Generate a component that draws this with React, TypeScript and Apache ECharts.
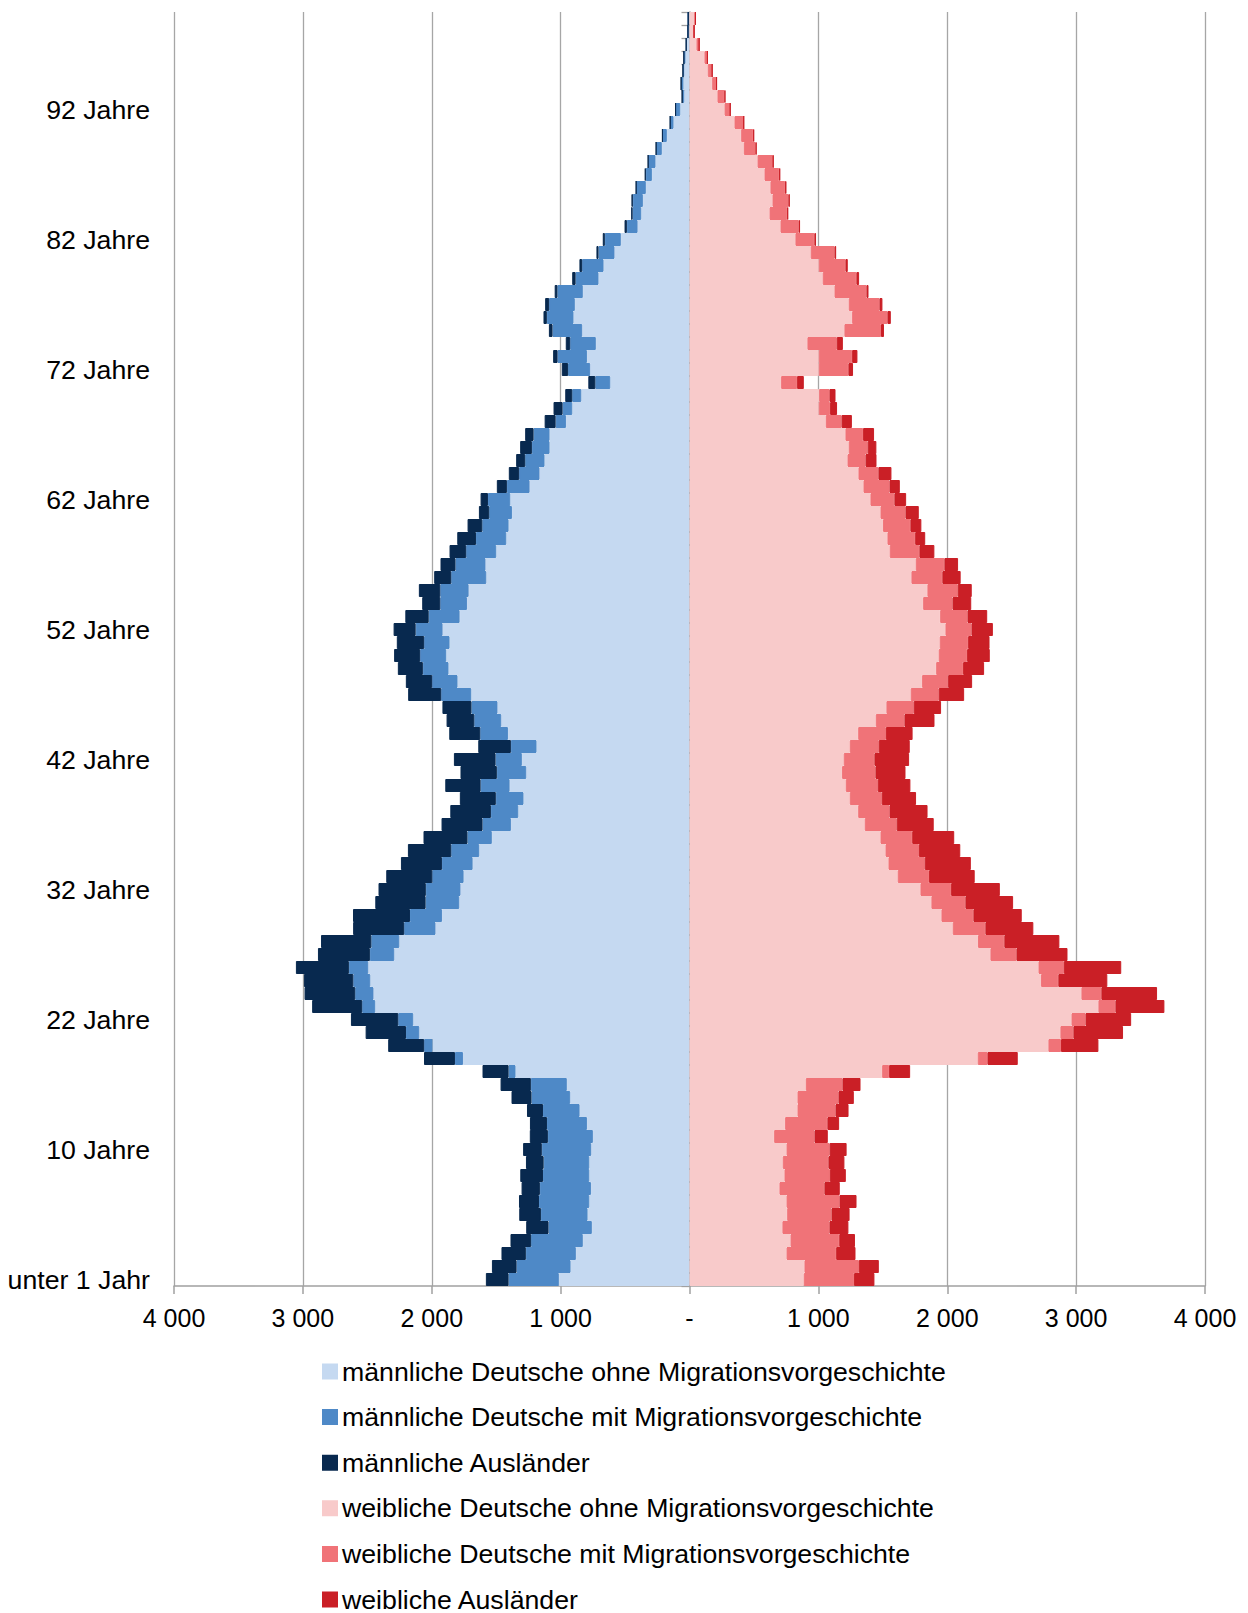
import React, { useEffect, useRef } from "react";
import * as echarts from "echarts";

// Tick labels shown on the age axis (every 10th row, from bottom)
const tickLabels = [
  "unter 1 Jahr", "10 Jahre", "22 Jahre", "32 Jahre", "42 Jahre",
  "52 Jahre", "62 Jahre", "72 Jahre", "82 Jahre", "92 Jahre",
];

// Values from the youngest row (bottom) to the oldest row (top), 98 rows
const maleOhne = [
  1014, 923, 882, 828, 758, 791, 778, 765, 778, 778,
  763, 750, 796, 853, 926, 952, 1350, 1758, 1994, 2097,
  2144, 2439, 2452, 2477, 2493, 2291, 2252, 1971, 1921, 1787,
  1777, 1753, 1683, 1632, 1534, 1386, 1329, 1288, 1396, 1267,
  1301, 1187, 1409, 1461, 1490, 1694, 1800, 1870, 1888, 1862,
  1916, 1784, 1727, 1714, 1577, 1583, 1500, 1422, 1404, 1378,
  1391, 1241, 1164, 1125, 1086, 1086, 959, 910, 840, 615,
  771, 796, 727, 833, 900, 890, 828, 706, 667, 582,
  533, 403, 375, 362, 339, 292, 264, 215, 176, 124,
  72, 41, 47, 41, 31, 21, 12, 10,
];
const maleMit = [
  390, 419, 388, 401, 336, 362, 390, 396, 359, 354,
  383, 349, 310, 284, 300, 279, 54, 62, 65, 103,
  116, 101, 142, 132, 150, 189, 217, 243, 248, 261,
  269, 243, 238, 217, 189, 220, 212, 215, 225, 228,
  204, 199, 215, 209, 202, 233, 197, 199, 202, 197,
  209, 240, 207, 220, 272, 233, 233, 235, 204, 176,
  173, 176, 158, 150, 137, 124, 80, 75, 70, 116,
  171, 228, 199, 230, 207, 199, 197, 178, 166, 124,
  124, 83, 67, 78, 75, 47, 57, 44, 34, 26,
  36, 16, 18, 10, 13, 5, 0, 0,
];
const maleAus = [
  176, 191, 189, 160, 173, 168, 155, 142, 176, 137,
  145, 140, 132, 124, 155, 235, 202, 240, 279, 313,
  367, 388, 393, 383, 411, 403, 390, 396, 442, 390,
  367, 357, 318, 336, 341, 318, 315, 279, 274, 282,
  323, 253, 240, 215, 225, 256, 204, 194, 202, 212,
  171, 181, 140, 166, 132, 116, 129, 145, 114, 80,
  57, 78, 80, 70, 91, 65, 85, 70, 54, 54,
  49, 34, 34, 28, 26, 31, 21, 26, 21, 16,
  16, 18, 10, 10, 0, 8, 0, 0, 0, 0,
  0, 0, 0, 0, 0, 0, 0, 0,
];
const femaleOhne = [
  887, 892, 753, 784, 721, 758, 753, 698, 737, 724,
  753, 657, 742, 838, 838, 903, 1495, 2237, 2785, 2878,
  2964, 3173, 3041, 2728, 2708, 2335, 2239, 2043, 1955, 1877,
  1792, 1616, 1544, 1521, 1482, 1360, 1309, 1244, 1213, 1184,
  1197, 1244, 1309, 1446, 1528, 1717, 1805, 1914, 1934, 1942,
  1986, 1945, 1813, 1846, 1722, 1756, 1554, 1536, 1502, 1482,
  1404, 1350, 1311, 1226, 1236, 1210, 1058, 1003, 1006, 711,
  1003, 1003, 915, 1202, 1262, 1236, 1125, 1034, 1003, 941,
  822, 706, 621, 644, 628, 582, 528, 422, 401, 349,
  272, 217, 176, 142, 116, 54, 31, 41,
];
const femaleMit = [
  390, 422, 385, 378, 365, 344, 411, 349, 352, 354,
  334, 313, 328, 295, 318, 284, 54, 75, 98, 101,
  109, 132, 155, 134, 197, 202, 204, 253, 248, 264,
  238, 243, 282, 259, 246, 248, 243, 248, 248, 259,
  238, 225, 215, 222, 212, 217, 202, 209, 220, 220,
  202, 212, 228, 235, 240, 222, 230, 215, 212, 194,
  186, 202, 155, 140, 147, 137, 122, 88, 80, 124,
  230, 259, 228, 284, 274, 238, 248, 261, 207, 184,
  147, 142, 137, 124, 114, 114, 119, 91, 93, 72,
  44, 54, 34, 34, 23, 21, 5, 5,
];
const femaleAus = [
  158, 155, 150, 122, 147, 140, 132, 119, 124, 124,
  132, 103, 91, 101, 119, 140, 163, 235, 290, 385,
  354, 380, 432, 380, 445, 396, 427, 372, 375, 370,
  378, 354, 357, 321, 326, 287, 295, 266, 253, 233,
  269, 240, 207, 233, 212, 197, 186, 163, 176, 166,
  166, 153, 145, 109, 142, 106, 116, 78, 85, 103,
  91, 80, 101, 85, 67, 85, 80, 54, 47, 52,
  36, 41, 47, 23, 26, 23, 16, 21, 18, 13,
  13, 10, 8, 10, 10, 8, 5, 8, 8, 0,
  0, 8, 0, 0, 0, 0, 0, 0,
];

const seriesNames = [
  "männliche Deutsche ohne Migrationsvorgeschichte",
  "männliche Deutsche mit Migrationsvorgeschichte",
  "männliche Ausländer",
  "weibliche Deutsche ohne Migrationsvorgeschichte",
  "weibliche Deutsche mit Migrationsvorgeschichte",
  "weibliche Ausländer",
];
const seriesColors = ["#C5D9F1", "#4E89C7", "#08294F", "#F8CACA", "#F07378", "#CA1F26"];

const FONT = "'Liberation Sans', Arial, sans-serif";

export default function App() {
  const ref = useRef<HTMLDivElement>(null);
  useEffect(() => {
    if (!ref.current) return;
    const chart = echarts.init(ref.current, null, { renderer: "svg" });
    const categories = maleOhne.map((_, i) => (i % 10 === 0 ? tickLabels[i / 10] : String(i)));
    const dataSets = [
      maleOhne.map((v) => -v),
      maleMit.map((v) => -v),
      maleAus.map((v) => -v),
      femaleOhne,
      femaleMit,
      femaleAus,
    ];
    const fmt = (v: number) => {
      if (v === 0) return "-";
      const a = Math.abs(v);
      const s = String(a);
      return s.length > 3 ? s.slice(0, s.length - 3) + " " + s.slice(-3) : s;
    };
    chart.setOption({
      animation: false,
      textStyle: { fontFamily: FONT },
      grid: { left: 174, top: 12, width: 1031, height: 1274 },
      legend: {
        orient: "vertical",
        left: 317,
        top: 1353,
        icon: "rect",
        itemWidth: 14,
        itemHeight: 14,
        itemGap: 18.6,
        textStyle: { fontSize: 26.7, color: "#000", fontFamily: FONT },
        data: seriesNames,
      },
      xAxis: {
        type: "value",
        min: -4000,
        max: 4000,
        interval: 1000,
        axisLine: { show: true, lineStyle: { color: "#A0A0A0", width: 1.5 } },
        axisTick: { show: true, length: 8, lineStyle: { color: "#A0A0A0", width: 1.5 } },
        splitLine: { show: true, lineStyle: { color: "#A6A6A6", width: 1.3 } },
        axisLabel: {
          formatter: fmt,
          fontSize: 25,
          color: "#000",
          margin: 19,
          fontFamily: FONT,
        },
      },
      yAxis: [
        {
          type: "category",
          data: categories,
          position: "left",
          axisLine: { show: false, onZero: false },
          axisTick: { show: false },
          axisLabel: { interval: 9, fontSize: 26.7, color: "#000", margin: 24, fontFamily: FONT },
        },
        {
          type: "category",
          data: categories,
          position: "left",
          axisLine: { show: true, onZero: true, lineStyle: { color: "#A0A0A0", width: 1.5 } },
          axisTick: { show: true, length: 8, interval: 0, lineStyle: { color: "#A0A0A0", width: 1.3 } },
          axisLabel: { show: false },
        },
      ],
      series: seriesNames.map((name, idx) => ({
        name,
        type: "bar",
        stack: "total",
        yAxisIndex: 0,
        barCategoryGap: "0%",
        z: 1,
        itemStyle: {
          color: seriesColors[idx],
          borderColor: seriesColors[idx],
          borderWidth: 1,
        },
        data: dataSets[idx],
      })),
    });
    return () => chart.dispose();
  }, []);
  return (
    <div
      style={{
        position: "absolute",
        left: 0,
        top: 0,
        width: 1248,
        height: 1613,
        overflow: "hidden",
      }}
    >
      <div ref={ref} style={{ width: 1248, height: 1720 }} />
    </div>
  );
}
